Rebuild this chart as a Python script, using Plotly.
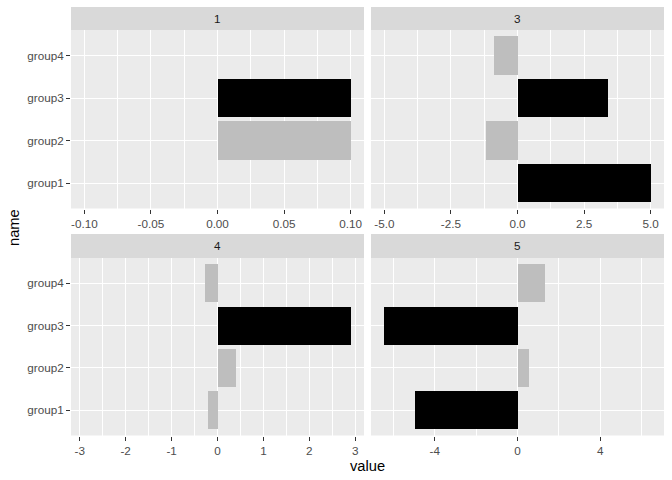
import plotly.graph_objects as go

W, H = 672, 480

groups = ["group1", "group2", "group3", "group4"]
facets = ["1", "3", "4", "5"]
vals_1 = [0.0, 0.1, 0.1, 0.0]
vals_3 = [5.0, -1.2, 3.38, -0.9]
vals_4 = [-0.2, 0.41, 2.9, -0.28]
vals_5 = [-4.94, 0.58, -6.44, 1.31]
BLACK, GREY = "#000000", "#BEBEBE"
colors_1 = [BLACK, GREY, BLACK, GREY]
colors_3 = [BLACK, GREY, BLACK, GREY]
colors_4 = [GREY, GREY, BLACK, GREY]
colors_5 = [BLACK, GREY, BLACK, GREY]

ticks_1 = [-0.10, -0.05, 0.0, 0.05, 0.10]
ticklabels_1 = ["-0.10", "-0.05", "0.00", "0.05", "0.10"]
ticks_3 = [-5.0, -2.5, 0.0, 2.5, 5.0]
ticklabels_3 = ["-5.0", "-2.5", "0.0", "2.5", "5.0"]
ticks_4 = [-3, -2, -1, 0, 1, 2, 3]
ticklabels_4 = ["-3", "-2", "-1", "0", "1", "2", "3"]
ticks_5 = [-4, 0, 4]
ticklabels_5 = ["-4", "0", "4"]
minor_1 = [-0.075, -0.025, 0.025, 0.075]
minor_3 = [-3.75, -1.25, 1.25, 3.75]
minor_4 = [-2.5, -1.5, -0.5, 0.5, 1.5, 2.5]
minor_5 = [-6, -2, 2, 6]

values = [vals_1, vals_3, vals_4, vals_5]
colors = [colors_1, colors_3, colors_4, colors_5]
ticks = [ticks_1, ticks_3, ticks_4, ticks_5]
ticklabels = [ticklabels_1, ticklabels_3, ticklabels_4, ticklabels_5]
minors = [minor_1, minor_3, minor_4, minor_5]

# panel pixel boxes (x0, x1, y0, y1) and strip boxes
cols = [(71, 364), (371, 664)]
rows = [(30, 208.5), (258, 435.5)]
strips = [(7, 30), (234, 258)]

FONT = "Liberation Sans, Arial, sans-serif"

def px(x):
    return x / W

def py(y):
    return 1 - y / H

fig = go.Figure()
shapes = []
annotations = []
layout = {}

for i, (fac, vals, cols_i) in enumerate(zip(facets, values, colors)):
    r, c = divmod(i, 2)
    n = i + 1
    xa = "x" if n == 1 else f"x{n}"
    ya = "y" if n == 1 else f"y{n}"
    xkey = "xaxis" if n == 1 else f"xaxis{n}"
    ykey = "yaxis" if n == 1 else f"yaxis{n}"
    fig.add_trace(go.Bar(
        x=vals, y=groups, orientation="h", width=0.9,
        marker=dict(color=cols_i, line=dict(width=0)),
        xaxis=xa, yaxis=ya, showlegend=False,
    ))
    m = max(abs(v) for v in vals) * 1.1
    x0, x1 = cols[c]
    y0, y1 = rows[r]
    layout[xkey] = dict(
        domain=[px(x0), px(x1)], anchor=ya, range=[-m, m],
        tickmode="array", tickvals=ticks[i], ticktext=ticklabels[i],
        showgrid=True, gridcolor="white", gridwidth=1.1,
        minor=dict(tickmode="array", tickvals=minors[i], showgrid=True,
                   gridcolor="white", gridwidth=0.5),
        zeroline=False, showline=False,
        ticks="outside", ticklen=4, tickcolor="#333333", tickwidth=1,
        tickfont=dict(family=FONT, size=11.7, color="#4D4D4D"),
        fixedrange=True,
    )
    layout[ykey] = dict(
        domain=[py(y1), py(y0)], anchor=xa, type="category",
        categoryorder="array", categoryarray=groups, range=[-0.6, 3.6],
        showgrid=True, gridcolor="white", gridwidth=1.1,
        zeroline=False, showline=False,
        ticks="outside" if c == 0 else "", ticklen=4, tickcolor="#333333",
        showticklabels=(c == 0),
        tickfont=dict(family=FONT, size=11.7, color="#4D4D4D"),
        fixedrange=True,
    )
    # panel background
    shapes.append(dict(type="rect", xref="paper", yref="paper",
                       x0=px(x0), x1=px(x1), y0=py(y1), y1=py(y0),
                       fillcolor="#EBEBEB", line=dict(width=0), layer="below"))
    s0, s1 = strips[r]
    shapes.append(dict(type="rect", xref="paper", yref="paper",
                       x0=px(x0), x1=px(x1), y0=py(s1), y1=py(s0),
                       fillcolor="#D9D9D9", line=dict(width=0), layer="below"))
    annotations.append(dict(text=fac, xref="paper", yref="paper",
                            x=px((x0 + x1) / 2), y=py((s0 + s1) / 2),
                            showarrow=False, xanchor="center", yanchor="middle",
                            font=dict(family=FONT, size=11.7, color="#1A1A1A")))

annotations.append(dict(text="value", xref="paper", yref="paper",
                        x=px(367.5), y=py(466), showarrow=False,
                        xanchor="center", yanchor="middle",
                        font=dict(family=FONT, size=14.7, color="black")))
annotations.append(dict(text="name", xref="paper", yref="paper",
                        x=px(14), y=py(228), showarrow=False, textangle=-90,
                        xanchor="center", yanchor="middle",
                        font=dict(family=FONT, size=14.7, color="black")))

fig.update_layout(
    width=W, height=H, margin=dict(l=0, r=0, t=0, b=0),
    paper_bgcolor="white", plot_bgcolor="rgba(0,0,0,0)",
    shapes=shapes, annotations=annotations, bargap=0,
    **layout,
)

fig.write_html("out.html", config={"displayModeBar": False})
